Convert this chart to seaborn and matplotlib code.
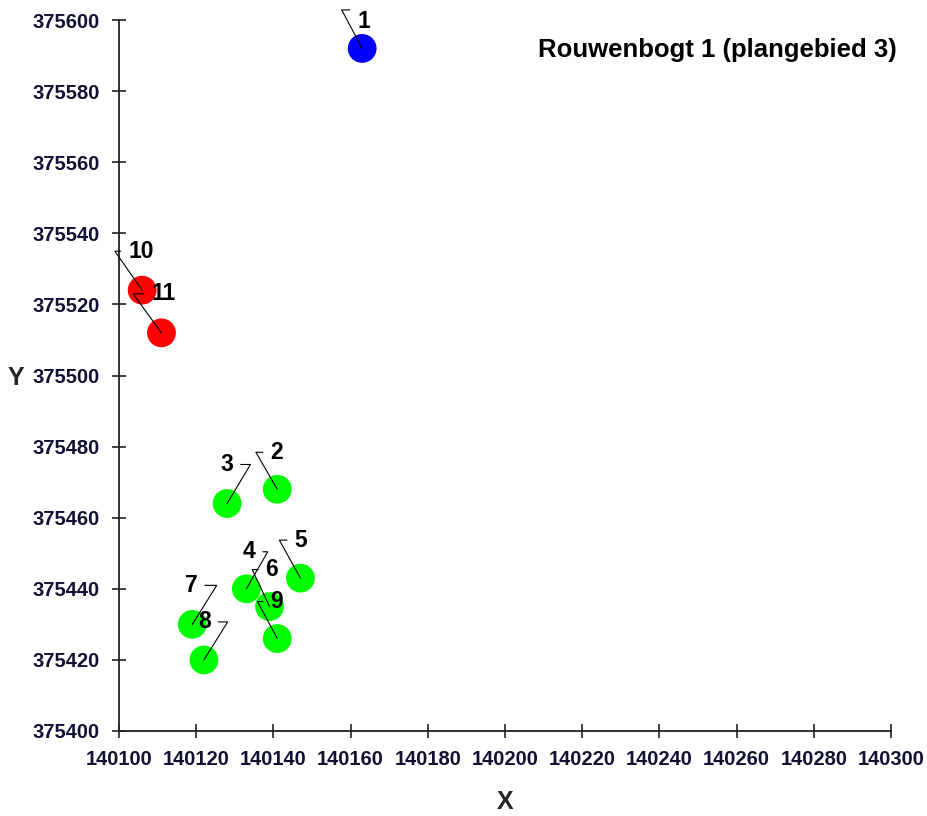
import matplotlib
matplotlib.use("Agg")
import matplotlib.pyplot as plt
import seaborn as sns
import pandas as pd

# ---- data ----
labels = ['1', '2', '3', '4', '5', '6', '7', '8', '9', '10', '11']
x_vals = [140163, 140141, 140128, 140133, 140147, 140139, 140119, 140122, 140141, 140106, 140111]
y_vals = [375592, 375468, 375464, 375440, 375443, 375435, 375430, 375420, 375426, 375524, 375512]
groups = ['blue', 'green', 'green', 'green', 'green', 'green', 'green', 'green', 'green', 'red', 'red']
x_ticks = [140100, 140120, 140140, 140160, 140180, 140200, 140220, 140240, 140260, 140280, 140300]
y_ticks = [375400, 375420, 375440, 375460, 375480, 375500, 375520, 375540, 375560, 375580, 375600]
title = 'Rouwenbogt 1 (plangebied 3)'

# label placement style (offset pixels of text anchor, side, leader angle, leader anchor)
label_style = {
    '1': (-5, 27, 'R', 118, (0, 1.0)),
    '2': (-7, 37, 'R', 120, (0, 0.5)),
    '3': (6, 39, 'L', 59, (1, 0.5)),
    '4': (9, 37, 'L', 60, (1, 0.5)),
    '5': (-6, 38, 'R', 119, (0, 0.5)),
    '6': (-4, 37, 'R', 115, (0, 0.5)),
    '7': (5, 39, 'L', 58, (1, 0.5)),
    '8': (7, 38, 'L', 58, (1, 0.5)),
    '9': (-7, 37, 'R', 118, (0, 0.5)),
    '10': (-14, 39, 'R', 125, (0, 0.5)),
    '11': (-10, 39, 'R', 126, (0, 0.5)),
}

df = pd.DataFrame({'x': x_vals, 'y': y_vals, 'g': groups, 'label': labels})

sns.set_style('white')
plt.rcParams['font.family'] = ['Liberation Sans', 'DejaVu Sans']

dpi = 100
fig = plt.figure(figsize=(927 / dpi, 816 / dpi), dpi=dpi)
ax = fig.add_axes([119 / 927, 1 - 731 / 816, (891 - 119) / 927, (731 - 20) / 816])

palette = {'blue': '#0000FF', 'green': '#00FF00', 'red': '#FF0000'}
sns.scatterplot(data=df, x='x', y='y', hue='g', palette=palette, s=430,
                linewidth=0, legend=False, ax=ax, zorder=3)

ax.set_xlim(140100, 140300)
ax.set_ylim(375400, 375600)
ax.set_xticks(x_ticks)
ax.set_yticks(y_ticks)
ax.set_xticklabels([str(t) for t in x_ticks])
ax.set_yticklabels([str(t) for t in y_ticks])

for sp in ['top', 'right']:
    ax.spines[sp].set_visible(False)
for sp in ['left', 'bottom']:
    ax.spines[sp].set_linewidth(1.3)
    ax.spines[sp].set_color('#222222')

ax.tick_params(axis='both', direction='inout', length=10, width=1.2, color='#222222',
               labelsize=14.5, labelcolor='#111133', bottom=True, left=True)
ax.tick_params(axis='x', pad=9)
ax.tick_params(axis='y', pad=9)
for lab in ax.get_xticklabels() + ax.get_yticklabels():
    lab.set_fontweight('bold')

ax.set_xlabel('X', fontsize=18, fontweight='bold', labelpad=15)
ax.set_ylabel('Y', fontsize=18, fontweight='bold', rotation=0, va='center')
ax.yaxis.set_label_coords(-0.134, 0.497)
ax.grid(False)

for lab, xv, yv in zip(labels, x_vals, y_vals):
    dx, dy, side, ang, rel = label_style[lab]
    ha = 'left' if side == 'R' else 'right'
    ax.annotate(lab, xy=(xv, yv), xytext=(dx, dy), textcoords='offset pixels',
                ha=ha, va='center', fontsize=16.5, fontweight='bold', color='black',
                annotation_clip=False, zorder=4,
                arrowprops=dict(arrowstyle='-', color='black', lw=0.8,
                                connectionstyle=f'angle,angleA=0,angleB={ang},rad=0',
                                relpos=rel, shrinkA=3, shrinkB=0))

ax.text(1.008, 0.958, title, transform=ax.transAxes, ha='right', va='center',
        fontsize=18.5, fontweight='bold', color='black')

fig.savefig('out.png', dpi=dpi)
